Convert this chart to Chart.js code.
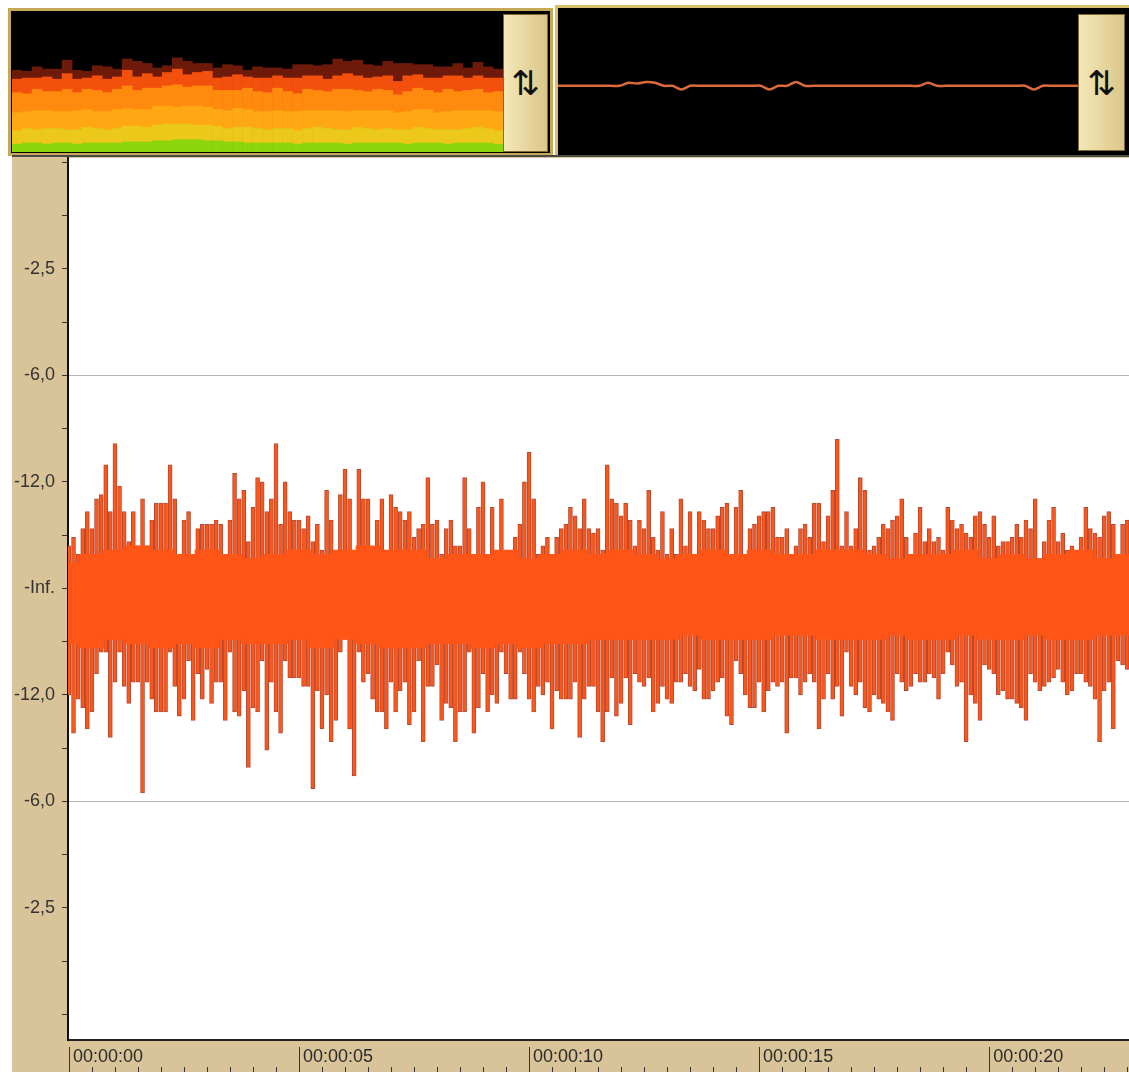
<!DOCTYPE html>
<html>
<head>
<meta charset="utf-8">
<script src="https://cdn.jsdelivr.net/npm/chart.js@4.4.1/dist/chart.umd.min.js"></script>
<style>
body { margin: 0; background: #fff; width: 1129px; height: 1072px; position: relative; overflow: hidden; }
.frame { position: absolute; background: #000; box-sizing: border-box; }
#specFrame { left: 8px; top: 8px; width: 545px; height: 148px; border: 3px solid #c6a957; }
#pitchFrame { left: 555px; top: 5px; width: 574px; height: 151px; border-left: 3px solid #d8bd6c; border-top: 3px solid #d8bd6c; }
.box { position: absolute; }
#specBox { left: 12px; top: 12px; width: 491px; height: 140px; }
#pitchBox { left: 558px; top: 10px; width: 520px; height: 144px; }
#waveBox { left: 12px; top: 155px; width: 1117px; height: 917px; }
.btn { position: absolute; box-sizing: border-box; background: linear-gradient(90deg, #f4e8b8, #dcc68a); border: 1px solid #7d6a35;
       display: flex; align-items: center; justify-content: center; font: 34px "DejaVu Sans", sans-serif; color: #111; }
</style>
</head>
<body>
<div class="frame" id="specFrame"></div>
<div class="frame" id="pitchFrame"></div>
<div class="box" id="specBox"><canvas id="specChart"></canvas></div>
<div class="box" id="pitchBox"><canvas id="pitchChart"></canvas></div>
<div class="btn" style="left:503px;top:14px;width:45px;height:138px">&#8645;</div>
<div class="btn" style="left:1078px;top:14px;width:47px;height:137px">&#8645;</div>
<div class="box" id="waveBox"><canvas id="waveChart"></canvas></div>

<script>
// waveform peaks, one pair every 0.1 s (amplitude, 1 = 0 dB)
var sampleStep = 0.1;
var peakHigh = [
    0.10,0.12,0.08,0.14,0.18,0.14,0.21,0.22,0.29,0.18,
    0.34,0.24,0.18,0.11,0.18,0.10,0.21,0.10,0.16,0.20,
    0.20,0.20,0.29,0.21,0.07,0.16,0.18,0.04,0.14,0.15,
    0.15,0.15,0.16,0.15,0.07,0.16,0.27,0.21,0.23,0.11,
    0.19,0.26,0.25,0.18,0.21,0.34,0.15,0.25,0.18,0.16,
    0.16,0.14,0.17,0.11,0.15,0.09,0.23,0.16,
    0.03,0.22,0.28,0.21,0.07,0.28,0.21,0.21,0.07,0.16,
    0.21,0.07,0.22,0.19,0.18,0.16,0.18,0.12,0.14,0.15,
    0.26,0.15,0.16,0.08,0.14,0.16,0.10,0.10,0.26,0.14,
    0.05,0.19,0.25,0.08,0.19,0.07,0.21,0.08,0.07,0.12,
    0.15,0.25,0.32,0.21,0.08,0.10,0.12,0.07,0.12,0.14,
    0.15,0.19,0.17,0.14,0.21,0.14,0.13,0.14,
    0.09,0.29,0.21,0.20,0.17,0.20,0.16,0.10,0.16,0.14,
    0.23,0.12,0.09,0.18,0.08,0.14,0.08,0.21,0.10,0.18,
    0.08,0.18,0.16,0.14,0.14,0.17,0.19,0.20,0.08,0.19,
    0.23,0.07,0.14,0.15,0.17,0.18,0.18,0.19,0.12,0.12,
    0.14,0.03,0.10,0.14,0.15,0.12,0.20,0.20,0.11,0.17,
    0.23,0.35,0.10,0.18,0.10,0.14,0.26,0.23,
    0.09,0.10,0.12,0.15,0.14,0.16,0.17,0.21,0.12,0.06,
    0.13,0.19,0.11,0.14,0.11,0.12,0.09,0.19,0.16,0.14,
    0.15,0.13,0.12,0.17,0.18,0.15,0.12,0.17,0.10,0.11,
    0.11,0.12,0.15,0.12,0.16,0.14,0.21,0.07,0.11,0.16,
    0.19,0.11,0.13,0.09,0.10,0.09,0.12,0.19,0.14,0.13,
    0.12,0.17,0.18,0.15,0.07,0.15,0.16
];
var peakLow = [
    -0.25,-0.34,-0.26,-0.28,-0.33,-0.29,-0.20,-0.15,-0.15,-0.35,
    -0.22,-0.15,-0.23,-0.27,-0.22,-0.22,-0.48,-0.22,-0.26,-0.29,
    -0.29,-0.29,-0.15,-0.23,-0.30,-0.26,-0.17,-0.31,-0.20,-0.26,
    -0.19,-0.27,-0.22,-0.22,-0.31,-0.15,-0.29,-0.30,-0.24,-0.42,
    -0.28,-0.29,-0.17,-0.38,-0.22,-0.29,-0.34,-0.17,-0.21,-0.21,
    -0.21,-0.23,-0.23,-0.47,-0.24,-0.33,-0.25,-0.36,
    -0.31,-0.15,-0.12,-0.33,-0.44,-0.15,-0.22,-0.20,-0.26,-0.29,
    -0.29,-0.33,-0.22,-0.29,-0.24,-0.22,-0.32,-0.29,-0.17,-0.36,
    -0.23,-0.23,-0.18,-0.31,-0.27,-0.28,-0.36,-0.29,-0.29,-0.15,
    -0.34,-0.28,-0.20,-0.29,-0.25,-0.27,-0.15,-0.20,-0.26,-0.26,
    -0.15,-0.20,-0.26,-0.29,-0.23,-0.25,-0.22,-0.33,-0.24,-0.26,
    -0.26,-0.26,-0.22,-0.35,-0.26,-0.23,-0.23,-0.29,
    -0.36,-0.29,-0.21,-0.30,-0.27,-0.21,-0.32,-0.20,-0.22,-0.23,
    -0.21,-0.29,-0.27,-0.23,-0.26,-0.27,-0.22,-0.22,-0.20,-0.23,
    -0.24,-0.19,-0.26,-0.26,-0.24,-0.22,-0.21,-0.30,-0.32,-0.17,
    -0.20,-0.25,-0.28,-0.28,-0.22,-0.29,-0.24,-0.22,-0.23,-0.22,
    -0.34,-0.21,-0.21,-0.25,-0.22,-0.20,-0.22,-0.33,-0.26,-0.20,
    -0.26,-0.23,-0.30,-0.15,-0.23,-0.25,-0.22,-0.28,
    -0.29,-0.25,-0.26,-0.27,-0.29,-0.31,-0.20,-0.22,-0.24,-0.23,
    -0.20,-0.22,-0.22,-0.20,-0.21,-0.26,-0.20,-0.15,-0.18,-0.23,
    -0.22,-0.36,-0.25,-0.27,-0.31,-0.18,-0.19,-0.20,-0.25,-0.24,
    -0.26,-0.26,-0.27,-0.28,-0.31,-0.20,-0.22,-0.24,-0.23,-0.22,
    -0.21,-0.19,-0.22,-0.25,-0.24,-0.20,-0.20,-0.22,-0.23,-0.26,
    -0.36,-0.24,-0.22,-0.33,-0.17,-0.18,-0.19
];

// solid core of the signal, every 0.5 s
var bodyStep = 0.5;
var bodyHigh = [0.06,0.08,0.09,0.10,0.09,0.08,0.09,0.08,0.07,0.08,0.09,0.08,
                0.09,0.10,0.09,0.09,0.07,0.08,0.08,0.09,0.07,0.08,0.09,0.08,
                0.09,0.08,0.07,0.08,0.09,0.08,0.09,0.08,0.08,0.09,0.09,
                0.08,0.07,0.08,0.08,0.09,0.07,0.08,0.07,0.08,0.09,0.07,0.08];
var bodyLow = [-0.13,-0.14,-0.12,-0.13,-0.14,-0.13,-0.14,-0.12,-0.13,-0.13,-0.12,-0.14,
               -0.12,-0.13,-0.14,-0.14,-0.13,-0.13,-0.14,-0.13,-0.14,-0.13,-0.13,-0.12,
               -0.12,-0.12,-0.12,-0.11,-0.12,-0.12,-0.12,-0.11,-0.11,-0.12,-0.12,
               -0.12,-0.11,-0.12,-0.12,-0.11,-0.12,-0.12,-0.11,-0.12,-0.12,-0.11,-0.11];

var ampTicks = [1, 0.875, 0.75, 0.625, 0.5, 0.375, 0.25, 0.125, 0,
                -0.125, -0.25, -0.375, -0.5, -0.625, -0.75, -0.875, -1];
var dbNames = { '0.75': '-2,5', '0.5': '-6,0', '0.25': '-12,0', '0': '-Inf.' };
var timeTicks = [0, 5, 10, 15, 20];
var timeLabels = ['00:00:00', '00:00:05', '00:00:10', '00:00:15', '00:00:20'];

// spectrum bands per column, from low to high frequency
var greenBand  = [7,8,8,7,8,8,7,8,8,8, 8,9,9,9,10,10,11,11,11,10, 10,9,9,8,8,8,8,8,7,8, 8,8,8,7,8,8,8,8,8,7, 8,8,8,7,8,8,8,8,7];
var yellowBand = [12,13,12,14,13,12,13,14,13,12, 13,14,14,13,14,15,14,14,13,14, 13,12,13,14,13,12,13,13,12,13, 14,13,12,13,14,13,12,13,12,13, 14,13,12,13,12,13,14,13,12];
var amberBand  = [16,15,17,16,15,16,17,16,15,16, 17,16,15,16,17,16,15,16,17,16, 15,16,17,16,15,16,16,15,17,16, 15,16,17,16,15,16,17,16,15,16, 16,17,15,16,17,16,15,16,17];
var orangeBand = [18,16,19,17,18,20,16,18,19,17, 18,20,17,19,16,18,20,17,18,19, 17,18,16,19,18,17,20,18,16,19, 18,17,19,20,18,17,19,18,16,18, 19,17,18,20,17,18,19,16,18];
var redBand    = [12,14,10,13,11,14,12,10,13,12, 11,14,12,13,10,12,14,11,12,13, 11,12,14,10,12,13,11,12,14,12, 13,11,12,14,13,12,11,13,12,14, 12,11,13,12,14,11,12,13,12];
var darkBand   = [8,6,10,7,9,12,8,6,9,11, 7,10,14,9,8,6,10,12,8,7, 9,11,8,6,10,9,7,8,12,10, 9,13,15,11,14,12,10,13,16,11, 9,12,10,8,11,9,12,10,8];

// pitch trace
var pitchLine = [0,0,0,0,0,0,0,0,0.4,0.3, 0.5,0.4,0,0,-0.5,0,0,0,0,0,
                 0,0,0,0,-0.5,0,0,0.5,0,0, 0,0,0,0,0,0,0,0,0,0,
                 0,0,0.4,0,0,0,0,0,0,0, 0,0,0,0,-0.5,0,0,0,0,0];

//-----------------

var waveBackdrop = {
    id: 'waveBackdrop',
    beforeDraw: function(chart){
        var c = chart.ctx, a = chart.chartArea;
        c.save();
        c.fillStyle = '#d8c498';
        c.fillRect(0, 0, chart.width, chart.height);
        c.fillStyle = '#ffffff';
        c.fillRect(a.left, a.top, a.right - a.left, a.bottom - a.top);
        c.fillStyle = '#4a4a4a';
        c.fillRect(0, 0, chart.width, 2);
        c.restore();
    }
};

var timeRuler = {
    id: 'timeRuler',
    afterDraw: function(chart){
        var xs = chart.scales.x, c = chart.ctx, bottom = chart.height;
        c.save();
        c.strokeStyle = '#333';
        c.lineWidth = 1;
        for (var t = 0; t <= xs.max; t += 0.5) {
            var px = Math.round(xs.getPixelForValue(t)) + 0.5;
            var major = Math.abs(t % 5) < 1e-6;
            c.beginPath();
            c.moveTo(px, major ? chart.chartArea.bottom + 7 : bottom - 5);
            c.lineTo(px, bottom);
            c.stroke();
        }
        c.restore();
    }
};

var blackBack = {
    id: 'blackBack',
    beforeDraw: function(chart){
        chart.ctx.save();
        chart.ctx.fillStyle = '#000';
        chart.ctx.fillRect(0, 0, chart.width, chart.height);
        chart.ctx.restore();
    }
};

function noPadding(s){
    s.paddingTop = 0;
    s.paddingBottom = 0;
    s.paddingLeft = 0;
    s.paddingRight = 0;
}

function drawSpectrum(){
    var cols = greenBand.map(function(v, i){ return i + 1; });
    var bands = [
        [greenBand, '#8ed60c'], [yellowBand, '#ecc81a'], [amberBand, '#ffa814'],
        [orangeBand, '#ff8a0e'], [redBand, '#f2500c'], [darkBand, '#6e1a0a']
    ];
    new Chart(document.getElementById('specChart'), {
        type: 'bar',
        data: {
            labels: cols,
            datasets: bands.map(function(b){
                return { data: b[0], backgroundColor: b[1], borderWidth: 0, barPercentage: 1, categoryPercentage: 1 };
            })
        },
        options: {
            responsive: true, maintainAspectRatio: false, animation: false,
            plugins: { legend: { display: false }, tooltip: { enabled: false } },
            scales: {
                x: { display: false, stacked: true },
                y: { display: false, stacked: true, min: 0, max: 125 }
            }
        },
        plugins: [blackBack]
    });
}

function drawPitch(){
    new Chart(document.getElementById('pitchChart'), {
        type: 'line',
        data: {
            labels: pitchLine.map(function(v, i){ return i; }),
            datasets: [{ data: pitchLine, borderColor: '#dc6a3c', borderWidth: 2.5, pointRadius: 0, tension: 0.3 }]
        },
        options: {
            responsive: true, maintainAspectRatio: false, animation: false,
            plugins: { legend: { display: false }, tooltip: { enabled: false } },
            scales: {
                x: { display: false },
                y: { display: false, min: -9, max: 10 }
            }
        },
        plugins: [blackBack]
    });
}

function drawWave(){
    var peaks = peakHigh.map(function(v, i){ return { x: i * sampleStep, y: [peakLow[i], v] }; });
    var body = bodyHigh.map(function(v, i){ return { x: i * bodyStep, y: [bodyLow[i], v] }; });
    var labelFont = { family: '"Liberation Sans", Arial, sans-serif', size: 18 };

    new Chart(document.getElementById('waveChart'), {
        type: 'bar',
        data: {
            datasets: [
                { label: 'Core', data: body, backgroundColor: '#ff5516', borderWidth: 0,
                  barThickness: 24, grouped: false, order: 0 },
                { label: 'Peaks', data: peaks, backgroundColor: '#ff5516', borderColor: '#b24c38',
                  borderWidth: 1, borderSkipped: false, barThickness: 4, grouped: false, order: 1 }
            ]
        },
        options: {
            responsive: true, maintainAspectRatio: false, animation: false,
            layout: { padding: { top: 3, left: 0, right: 0, bottom: 0 } },
            plugins: { legend: { display: false }, tooltip: { enabled: false } },
            scales: {
                x: {
                    type: 'linear', min: -0.02, max: 23.04, offset: false,
                    afterBuildTicks: function(s){ s.ticks = timeTicks.map(function(v){ return { value: v }; }); },
                    afterFit: function(s){ s.height = 32; noPadding(s); },
                    grid: { display: false, drawTicks: false },
                    border: { display: true, color: '#222', width: 2 },
                    ticks: {
                        align: 'start', labelOffset: 4, padding: 6, maxRotation: 0, autoSkip: false,
                        color: '#2a2a2a', font: labelFont,
                        callback: function(value){
                            var i = timeTicks.indexOf(value);
                            return i < 0 ? '' : timeLabels[i];
                        }
                    }
                },
                y: {
                    min: -1.06, max: 1.01,
                    afterBuildTicks: function(s){ s.ticks = ampTicks.map(function(v){ return { value: v }; }); },
                    afterFit: function(s){ s.width = 56; noPadding(s); },
                    grid: {
                        drawOnChartArea: true, tickLength: 6, tickColor: '#333',
                        color: function(c){ return Math.abs(c.tick.value) === 0.5 ? '#b4b4b4' : 'rgba(0,0,0,0)'; }
                    },
                    border: { display: true, color: '#111', width: 2 },
                    ticks: {
                        padding: 7, autoSkip: false, color: '#333', font: labelFont,
                        callback: function(value){
                            var k = String(Math.abs(value));
                            return dbNames[k] !== undefined ? dbNames[k] : '';
                        }
                    }
                }
            }
        },
        plugins: [waveBackdrop, timeRuler]
    });
}

drawSpectrum();
drawPitch();
drawWave();
</script>
</body>
</html>
